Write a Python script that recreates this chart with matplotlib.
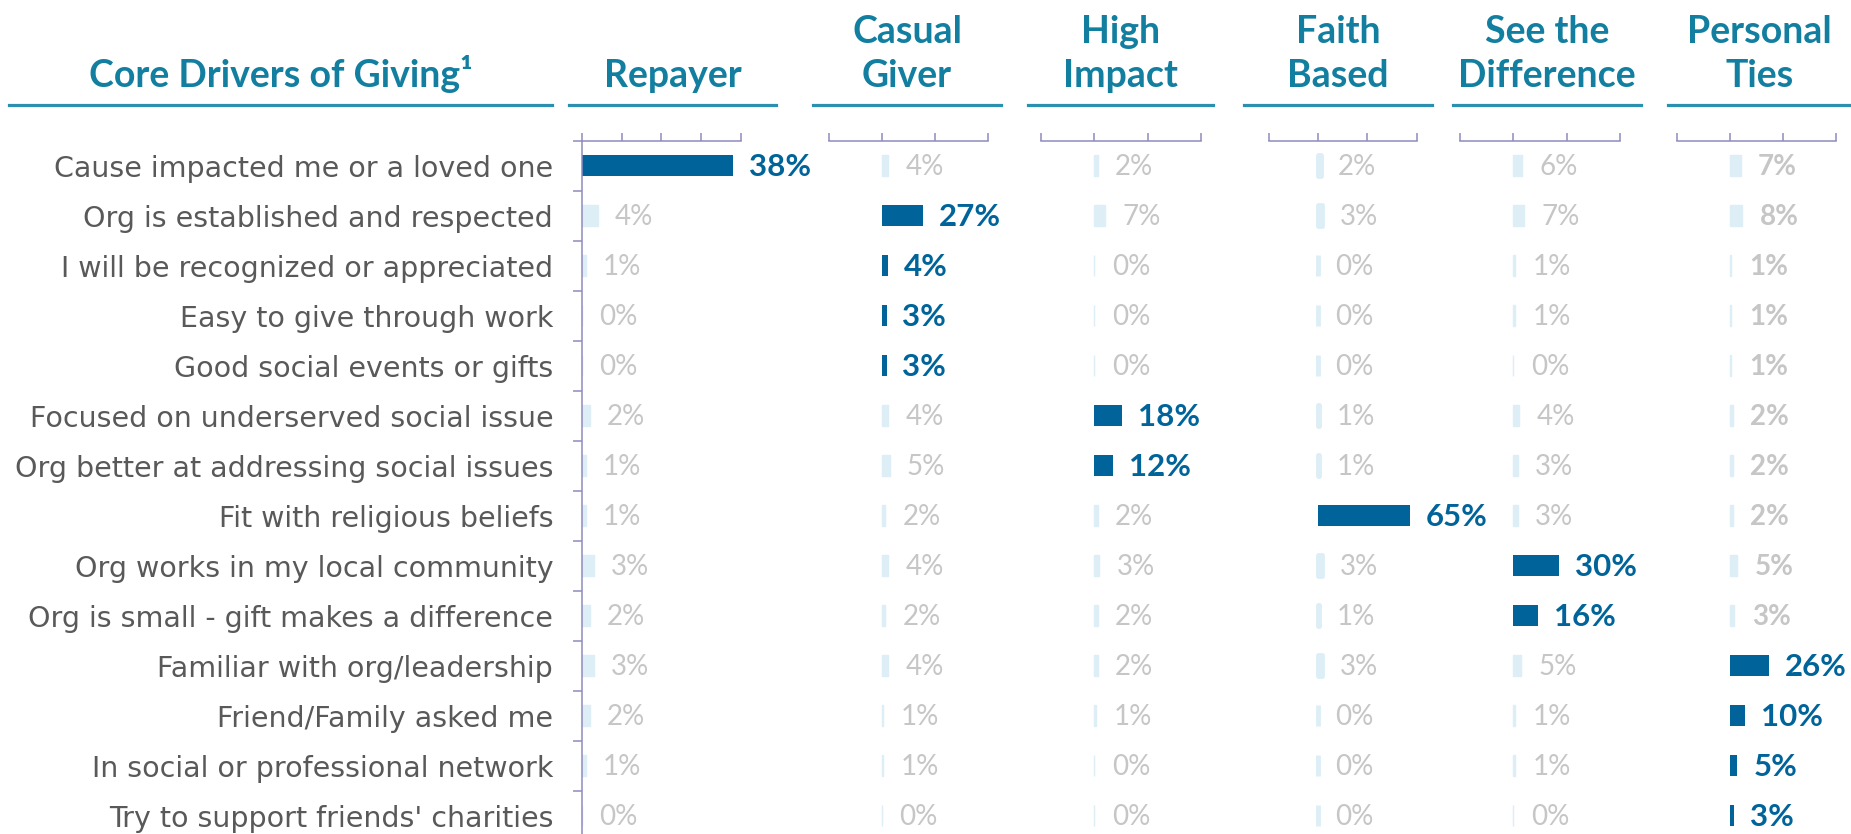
import matplotlib
matplotlib.use('Agg')
import matplotlib.pyplot as plt
from matplotlib.lines import Line2D
import numpy as np

W, H, DPI = 1851, 834, 100

# data
categories = [
    'Cause impacted me or a loved one',
    'Org is established and respected',
    'I will be recognized or appreciated',
    'Easy to give through work',
    'Good social events or gifts',
    'Focused on underserved social issue',
    'Org better at addressing social issues',
    'Fit with religious beliefs',
    'Org works in my local community',
    'Org is small - gift makes a difference',
    'Familiar with org/leadership',
    'Friend/Family asked me',
    'In social or professional network',
    "Try to support friends' charities",
]
title = 'Core Drivers of Giving\u00b9'
segment_headers = [['Repayer'], ['Casual', 'Giver'], ['High', 'Impact'],
                   ['Faith', 'Based'], ['See the', 'Difference'], ['Personal', 'Ties']]

repayer = [38, 4, 1, 0, 0, 2, 1, 1, 3, 2, 3, 2, 1, 0]
casual_giver = [4, 27, 4, 3, 3, 4, 5, 2, 4, 2, 4, 1, 1, 0]
high_impact = [2, 7, 0, 0, 0, 18, 12, 2, 3, 2, 2, 1, 0, 0]
faith_based = [2, 3, 0, 0, 0, 1, 1, 65, 3, 1, 3, 0, 0, 0]
see_difference = [6, 7, 1, 1, 0, 4, 3, 3, 30, 16, 5, 1, 1, 0]
personal_ties = [7, 8, 1, 1, 1, 2, 2, 2, 5, 3, 26, 10, 5, 3]
series = [repayer, casual_giver, high_impact, faith_based, see_difference, personal_ties]

# rows that are the core drivers of each segment
highlight = [[0], [1, 2, 3, 4], [5, 6], [7], [8, 9], [10, 11, 12, 13]]

# colours
teal = '#137FA0'
line_teal = '#2B8FB0'
dark = '#00649A'
light = '#DDEEF6'
light_txt = '#C6C6C6'
axis_c = '#8E8BBE'
label_c = '#595959'

# layout in pixels (x from left, y from top)
panel_px = [(581.7, 741.0), (828.8, 988.3), (1041.3, 1200.8),
            (1268.5, 1416.6), (1460.2, 1619.7), (1676.7, 1836.2)]
underline_px = [(9, 552), (569, 776), (813, 1001), (1028, 1213),
                (1244, 1432), (1453, 1641), (1668, 1851)]
light_edge = [1.0, 1.0, 1.0, 3.5, 1.0, 1.0]
row_top, row_h = 140.7, 50.0

fig = plt.figure(figsize=(W / DPI, H / DPI), dpi=DPI)
fig.patch.set_facecolor('white')

n = len(categories)
y = np.arange(n)
bottom = 1 - (row_top + n * row_h) / H

for k, (vals, (x0, x1)) in enumerate(zip(series, panel_px)):
    ax = fig.add_axes([x0 / W, bottom, (x1 - x0) / W, n * row_h / H])
    is_hi = [i in highlight[k] for i in range(n)]
    cols = [dark if h else light for h in is_hi]
    lws = [0 if h else light_edge[k] for h in is_hi]
    ax.barh(y, vals, height=0.42, color=cols, edgecolor=cols, linewidth=lws,
            joinstyle='round')

    for i, v in enumerate(vals):
        if is_hi[i]:
            ax.annotate(f'{v}%', xy=(v, i), xytext=(11.5, -1.2), textcoords='offset points',
                        ha='left', va='center', fontsize=22.5, fontweight='bold',
                        color=dark, family='Lato')
        else:
            bold = k == 5
            ax.annotate(f'{v}%', xy=(v, i), xytext=(12.5, -1.2), textcoords='offset points',
                        ha='left', va='center', fontsize=20,
                        fontweight='bold' if bold else 'normal',
                        color=light_txt, family='Lato')

    if k == 0:
        ax.set_xlim(0, 40)
        ax.set_xticks(np.arange(0, 41, 10))
    else:
        ax.set_xlim(-35, 70)
        ax.set_xticks([-35, 0, 35, 70])
    ax.set_ylim(n - 0.5, -0.5)
    ax.xaxis.tick_top()
    ax.tick_params(axis='x', direction='out', length=6, width=1.1, color=axis_c,
                   labeltop=False, labelbottom=False)

    for s in ['right', 'bottom']:
        ax.spines[s].set_visible(False)
    ax.spines['top'].set_color(axis_c)
    ax.spines['top'].set_linewidth(1.1)

    if k == 0:
        ax.spines['left'].set_color(axis_c)
        ax.spines['left'].set_linewidth(1.1)
        ax.set_yticks(y)
        ax.set_yticklabels(categories, fontsize=20.5, color=label_c)
        ax.tick_params(axis='y', which='major', length=0, pad=20.5)
        ax.set_yticks(np.arange(-0.5, n, 1), minor=True)
        ax.tick_params(axis='y', which='minor', direction='out', length=6.3,
                       width=1.1, color=axis_c)
    else:
        ax.spines['left'].set_visible(False)
        ax.set_yticks([])
    ax.patch.set_alpha(0)

# headers and underlines
headers = [[title]] + segment_headers
for lines, (x0, x1) in zip(headers, underline_px):
    cx = (x0 + x1) / 2 / W
    for j, txt in enumerate(reversed(lines)):
        base = 87.3 - 44.0 * j
        fig.text(cx, 1 - base / H, txt, ha='center', va='baseline',
                 fontsize=27, fontweight='bold', color=teal, family='Lato')
    yl = 1 - 104.5 / H
    fig.add_artist(Line2D([x0 / W, x1 / W], [yl, yl], transform=fig.transFigure,
                          color=line_teal, linewidth=2.3))

fig.savefig('out.png', dpi=DPI)
